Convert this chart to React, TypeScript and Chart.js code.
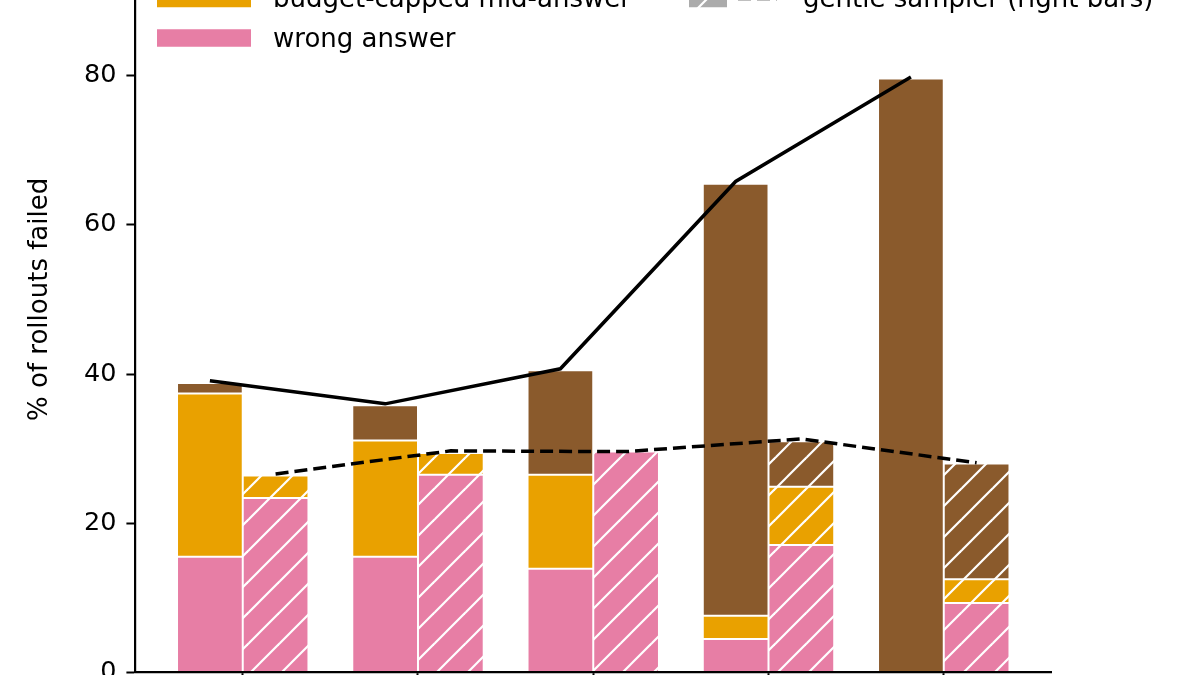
import { useEffect, useRef } from 'react';
import { Chart, registerables } from 'chart.js';

Chart.register(...registerables);

// x categories (labels sit below the visible crop)
const categories = ['1', '2', '3', '4', '5'];

// aggressive sampler -> left, solid bars
const aggWrong = [15.5, 15.5, 13.9, 4.5, 0];
const aggBudget = [21.9, 15.6, 12.6, 3.1, 0];
const aggLength = [1.4, 4.7, 14.0, 57.9, 79.6];
const aggTotal = [39.1, 36.0, 40.7, 65.8, 79.8];

// gentle sampler -> right, hatched bars
const genWrong = [23.4, 26.5, 29.6, 17.1, 9.3];
const genBudget = [3.0, 2.9, 0, 7.8, 3.2];
const genLength = [0, 0, 0, 6.1, 15.5];
const genTotal = [26.6, 29.7, 29.6, 31.3, 28.1];

const yTicks = [0, 20, 40, 60, 80, 100];

const PINK = '#E77EA5';
const ORANGE = '#E9A100';
const BROWN = '#8A5A2C';
const FONT = '"DejaVu Sans", sans-serif';

const BAR_W = 0.375;

const makeHatch = (ctx: CanvasRenderingContext2D, color: string) => {
  const s = 31;
  const c = document.createElement('canvas');
  c.width = s;
  c.height = s;
  const g = c.getContext('2d')!;
  g.fillStyle = color;
  g.fillRect(0, 0, s, s);
  g.strokeStyle = '#fff';
  g.lineWidth = 2.2;
  for (const k of [0, s, 2 * s]) {
    g.beginPath();
    g.moveTo(k - s - 2, s + 2);
    g.lineTo(k + 2, -2);
    g.stroke();
  }
  return ctx.createPattern(c, 'repeat')!;
};

const App = () => {
  const canvasRef = useRef<HTMLCanvasElement>(null);
  const chartRef = useRef<Chart | null>(null);

  useEffect(() => {
    if (!canvasRef.current) return;
    if (chartRef.current) chartRef.current.destroy();
    const ctx = canvasRef.current.getContext('2d');
    if (!ctx) return;

    const hatch = {
      pink: makeHatch(ctx, PINK),
      orange: makeHatch(ctx, ORANGE),
      brown: makeHatch(ctx, BROWN),
      gray: makeHatch(ctx, '#ababab'),
    };

    const barXY = (vals: number[]) => vals.map((y, i) => ({ x: i, y }));
    const lineXY = (vals: number[], shift: number) => vals.map((y, i) => ({ x: i + shift, y }));

    const barBase = {
      type: 'bar' as const,
      borderColor: '#ffffff',
      borderWidth: 1,
      borderSkipped: false,
      categoryPercentage: BAR_W * 2,
      barPercentage: 1,
      order: 2,
    };

    const legendPlugin = {
      id: 'mplLegend',
      afterDraw(chart: Chart) {
        const c = chart.ctx;
        const rowY = [59, 98.5, 138];
        c.save();
        c.font = `26px ${FONT}`;
        c.textBaseline = 'alphabetic';
        const left = [
          { label: 'hit length limit', fill: BROWN as string | CanvasPattern },
          { label: 'budget-capped mid-answer', fill: ORANGE },
          { label: 'wrong answer', fill: PINK },
        ];
        left.forEach((e, r) => {
          c.fillStyle = e.fill;
          c.fillRect(157, rowY[r] - 8.75, 94, 17.5);
          c.fillStyle = '#000';
          c.fillText(e.label, 273, rowY[r] + 8.7);
        });
        const right = [
          { label: 'aggressive sampler (left bars)', fill: '#ababab' as string | CanvasPattern, dash: [] as number[] },
          { label: 'gentle sampler (right bars)', fill: hatch.gray, dash: [13, 6] },
        ];
        right.forEach((e, r) => {
          c.fillStyle = e.fill;
          c.fillRect(689, rowY[r] - 8.75, 38, 17.5);
          c.strokeStyle = '#000';
          c.lineWidth = 3.5;
          c.setLineDash(e.dash);
          c.beginPath();
          c.moveTo(738, rowY[r]);
          c.lineTo(777, rowY[r]);
          c.stroke();
          c.setLineDash([]);
          c.fillStyle = '#000';
          c.fillText(e.label, 803, rowY[r] + 8.7);
        });
        c.restore();
      },
    };

    chartRef.current = new Chart(ctx, {
      type: 'bar',
      data: {
        datasets: [
          { ...barBase, label: 'wrong answer', stack: 'agg', data: barXY(aggWrong), backgroundColor: PINK },
          { ...barBase, label: 'budget-capped mid-answer', stack: 'agg', data: barXY(aggBudget), backgroundColor: ORANGE },
          { ...barBase, label: 'hit length limit', stack: 'agg', data: barXY(aggLength), backgroundColor: BROWN },
          { ...barBase, label: 'wrong answer (gentle)', stack: 'gen', data: barXY(genWrong), backgroundColor: hatch.pink },
          { ...barBase, label: 'budget-capped (gentle)', stack: 'gen', data: barXY(genBudget), backgroundColor: hatch.orange },
          { ...barBase, label: 'length limit (gentle)', stack: 'gen', data: barXY(genLength), backgroundColor: hatch.brown },
          {
            type: 'line',
            label: 'aggressive sampler (left bars)',
            stack: 'aggLine',
            data: lineXY(aggTotal, -BAR_W / 2),
            borderColor: '#000',
            borderWidth: 3.5,
            pointRadius: 0,
            fill: false,
            tension: 0,
            order: 0,
          },
          {
            type: 'line',
            label: 'gentle sampler (right bars)',
            stack: 'genLine',
            data: lineXY(genTotal, BAR_W / 2),
            borderColor: '#000',
            borderWidth: 3.5,
            borderDash: [13, 6],
            pointRadius: 0,
            fill: false,
            tension: 0,
            order: 0,
          },
        ] as any,
      },
      options: {
        responsive: false,
        animation: false,
        layout: { padding: { left: 0, right: 148.9, top: 26.25, bottom: 0 } },
        plugins: {
          legend: { display: false },
          tooltip: { enabled: false },
        },
        scales: {
          x: {
            type: 'linear',
            min: -0.6125,
            max: 4.6125,
            offset: false,
            afterFit: (scale: any) => {
              scale.height = 27.5;
            },
            afterBuildTicks: (scale: any) => {
              scale.ticks = categories.map((_, i) => ({ value: i }));
            },
            grid: {
              offset: false,
              drawOnChartArea: false,
              drawTicks: true,
              tickLength: 9,
              tickWidth: 2,
              tickColor: '#000',
            },
            border: { display: true, color: '#000', width: 2.2, z: 1 },
            ticks: {
              autoSkip: false,
              maxRotation: 0,
              padding: 10,
              color: '#000',
              font: { family: FONT, size: 25.5 },
              callback: (v: any) => categories[v as number] ?? '',
            },
          },
          y: {
            stacked: true,
            min: 0,
            max: 100,
            afterFit: (scale: any) => {
              scale.width = 135.4;
            },
            afterBuildTicks: (scale: any) => {
              scale.ticks = yTicks.map((v) => ({ value: v }));
            },
            grid: {
              drawOnChartArea: false,
              drawTicks: true,
              tickLength: 9,
              tickWidth: 2,
              tickColor: '#000',
            },
            border: { display: true, color: '#000', width: 2.2, z: 1 },
            ticks: {
              padding: 10,
              color: '#000',
              font: { family: FONT, size: 25.5 },
            },
            title: {
              display: true,
              text: '% of rollouts failed',
              color: '#000',
              font: { family: FONT, size: 26 },
              padding: { top: 25, bottom: 0 },
            },
          },
        },
      },
      plugins: [legendPlugin],
    });

    return () => {
      if (chartRef.current) {
        chartRef.current.destroy();
        chartRef.current = null;
      }
    };
  }, []);

  return (
    <div
      style={{
        position: 'fixed',
        left: 0,
        top: 0,
        width: 1200,
        height: 675,
        overflow: 'hidden',
        background: '#fff',
      }}
    >
      <canvas
        ref={canvasRef}
        width={1200}
        height={800}
        style={{ position: 'absolute', left: 0, top: -100, width: 1200, height: 800 }}
      />
    </div>
  );
};

export default App;
